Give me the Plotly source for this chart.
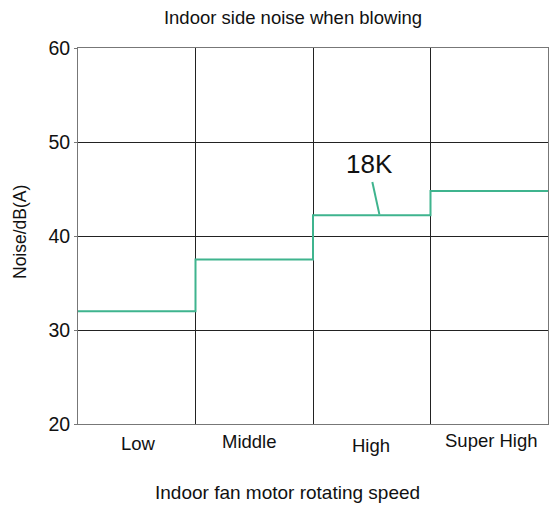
import plotly.graph_objects as go

categories = ["Low", "Middle", "High", "Super High"]
noise_values = [32.0, 37.5, 42.2, 44.8]
y_ticks = [20, 30, 40, 50, 60]
series_label = "18K"

# step edges (category boundaries)
edges = [0, 1, 2, 3, 4]
step_y = noise_values + [noise_values[-1]]

FONT = "Liberation Sans, Arial, sans-serif"
teal = "#3fb48e"
TXT = "#111"

fig = go.Figure()
fig.add_trace(go.Scatter(
    x=edges, y=step_y, mode="lines", line=dict(color=teal, width=2, shape="hv"),
    showlegend=False, hoverinfo="skip"))

# category labels (slightly staggered as in reference)
label_y_off = [-19, -17, -21, -16]
label_x_off = [2, -5, -1, 2]
for i, c in enumerate(categories):
    fig.add_annotation(x=i + 0.5, y=20, xref="x", yref="y", text=c, showarrow=False,
                       yshift=label_y_off[i], xshift=label_x_off[i],
                       font=dict(family=FONT, size=18.5, color=TXT))

# axis titles as annotations
fig.add_annotation(x=(287 - 78) / 470, y=0, xref="paper", yref="paper", yanchor="middle",
                   yshift=-68, text="Indoor fan motor rotating speed", showarrow=False,
                   font=dict(family=FONT, size=19, color=TXT))
fig.add_annotation(x=0, y=(424 - 232) / 376, xref="paper", yref="paper", xanchor="center",
                   yanchor="middle", xshift=-58, textangle=-90, text="Noise/dB(A)",
                   showarrow=False, font=dict(family=FONT, size=17.5, color=TXT))

# leader line + label
fig.add_shape(type="line", x0=2.505, y0=45.75, x1=2.565, y1=42.3, xref="x", yref="y",
              line=dict(color=teal, width=2))
fig.add_annotation(x=2.48, y=47.7, xref="x", yref="y", text=series_label, showarrow=False,
                   font=dict(family=FONT, size=26, color=TXT))

fig.update_layout(
    width=549, height=509,
    margin=dict(l=78, r=1, t=48, b=85),
    paper_bgcolor="white", plot_bgcolor="white",
    title=dict(text="Indoor side noise when blowing", x=293 / 549, xanchor="center",
               y=1 - 17.5 / 509, yanchor="middle",
               font=dict(family=FONT, size=18.5, color=TXT)),
    xaxis=dict(range=[0, 4], tickvals=edges, showticklabels=False, showgrid=True,
               gridcolor="#222", gridwidth=1, zeroline=False, showline=True,
               linecolor="#777", linewidth=1, mirror=True, ticks=""),
    yaxis=dict(range=[20, 60], tickvals=y_ticks, showgrid=True, gridcolor="#222",
               gridwidth=1, zeroline=False, showline=True, linecolor="#777", linewidth=1,
               mirror=True, ticks="outside", ticklen=3, tickcolor="#777",
               tickfont=dict(family=FONT, size=19.5, color=TXT)),
)

fig.write_html(
    "out.html",
    config={"displayModeBar": False, "staticPlot": True},
    post_script="document.body.style.margin='0';document.body.style.overflow='hidden';"
                "document.documentElement.style.overflow='hidden';",
)
